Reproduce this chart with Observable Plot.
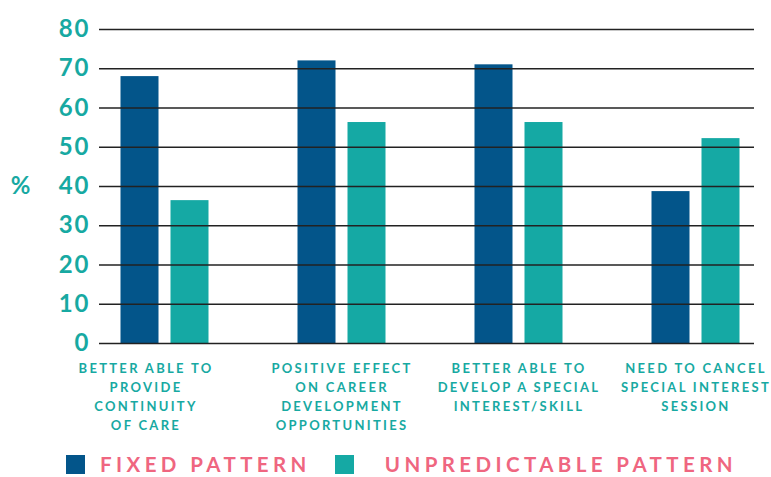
<!DOCTYPE html>
<html>
<head>
<meta charset="utf-8">
<script src="https://cdn.jsdelivr.net/npm/d3@7"></script>
<script src="https://cdn.jsdelivr.net/npm/@observablehq/plot@0.6"></script>
<style>
  html, body { margin: 0; padding: 0; background: #fff; overflow: hidden; }
  #chart svg { display: block; }
  #chart g[font-size="13"] text { letter-spacing: 2.3px; }
  #chart g[font-size="24"] text { letter-spacing: 2px; }
  .legend { display: flex; align-items: center; height: 24px; line-height: 24px; padding-top: 12px; font-family: Lato, sans-serif; font-weight: 700; font-size: 20.5px; color: #EF6680; letter-spacing: 4.4px; }
  .sw { width: 19px; height: 19px; display: inline-block; }
</style>
</head>
<body>
<div id="chart"></div>
<div class="legend">
  <span class="sw" style="margin-left:66px;background:#03558A"></span>
  <span style="margin-left:15px">FIXED PATTERN</span>
  <span class="sw" style="margin-left:24px;background:#15A9A4"></span>
  <span style="margin-left:31px">UNPREDICTABLE PATTERN</span>
</div>
<script>
const categories = ["continuity", "career", "special", "cancel"];
const categoryLabels = [
  "BETTER ABLE TO\nPROVIDE\nCONTINUITY\nOF CARE",
  "POSITIVE EFFECT\nON CAREER\nDEVELOPMENT\nOPPORTUNITIES",
  "BETTER ABLE TO\nDEVELOP A SPECIAL\nINTEREST/SKILL",
  "NEED TO CANCEL\nSPECIAL INTEREST\nSESSION"
];
const fixedValues = [68, 72, 71, 38.7];
const unpredictableValues = [36.4, 56.3, 56.3, 52.2];
const yTicks = [0, 10, 20, 30, 40, 50, 60, 70, 80];

const fixedData = categories.map((c, i) => ({category: c, value: fixedValues[i]}));
const unpData = categories.map((c, i) => ({category: c, value: unpredictableValues[i]}));
const labelData = categories.map((c, i) => ({category: c, label: categoryLabels[i]}));

const teal = "#17A9A2";
const labelOpts = {x: "category", text: "label", frameAnchor: "bottom", dy: 16, lineAnchor: "top", lineHeight: 1.46, fill: teal, fontSize: 13, fontWeight: 700};

const chart = Plot.plot({
  width: 771,
  height: 440,
  marginTop: 29,
  marginBottom: 97,
  marginLeft: 99,
  marginRight: 17,
  style: {fontFamily: "Lato, sans-serif", background: "#fff"},
  x: {type: "band", domain: categories, range: [75.5, 783.5], padding: 0, axis: null},
  y: {domain: [0, 80], ticks: yTicks, axis: null},
  marks: [
    Plot.barY(fixedData, {x: "category", y: "value", fill: "#03558A", insetLeft: 44.5, insetRight: 94.5}),
    Plot.barY(unpData, {x: "category", y: "value", fill: "#15A9A4", insetLeft: 94.5, insetRight: 44.5}),
    Plot.ruleY(yTicks, {stroke: "#222", strokeWidth: 1.4}),
    Plot.text(yTicks, {y: d => d, text: d => String(d), frameAnchor: "left", dx: -9, textAnchor: "end", fill: teal, fontSize: 24, fontWeight: 700}),
    Plot.text(["%"], {text: d => d, frameAnchor: "left", dx: -78, textAnchor: "middle", fill: teal, fontSize: 24, fontWeight: 700}),
    Plot.text(labelData.slice(0, 1), {...labelOpts, dx: -19}),
    Plot.text(labelData.slice(1), labelOpts)
  ]
});
document.getElementById("chart").appendChild(chart);
</script>
</body>
</html>
